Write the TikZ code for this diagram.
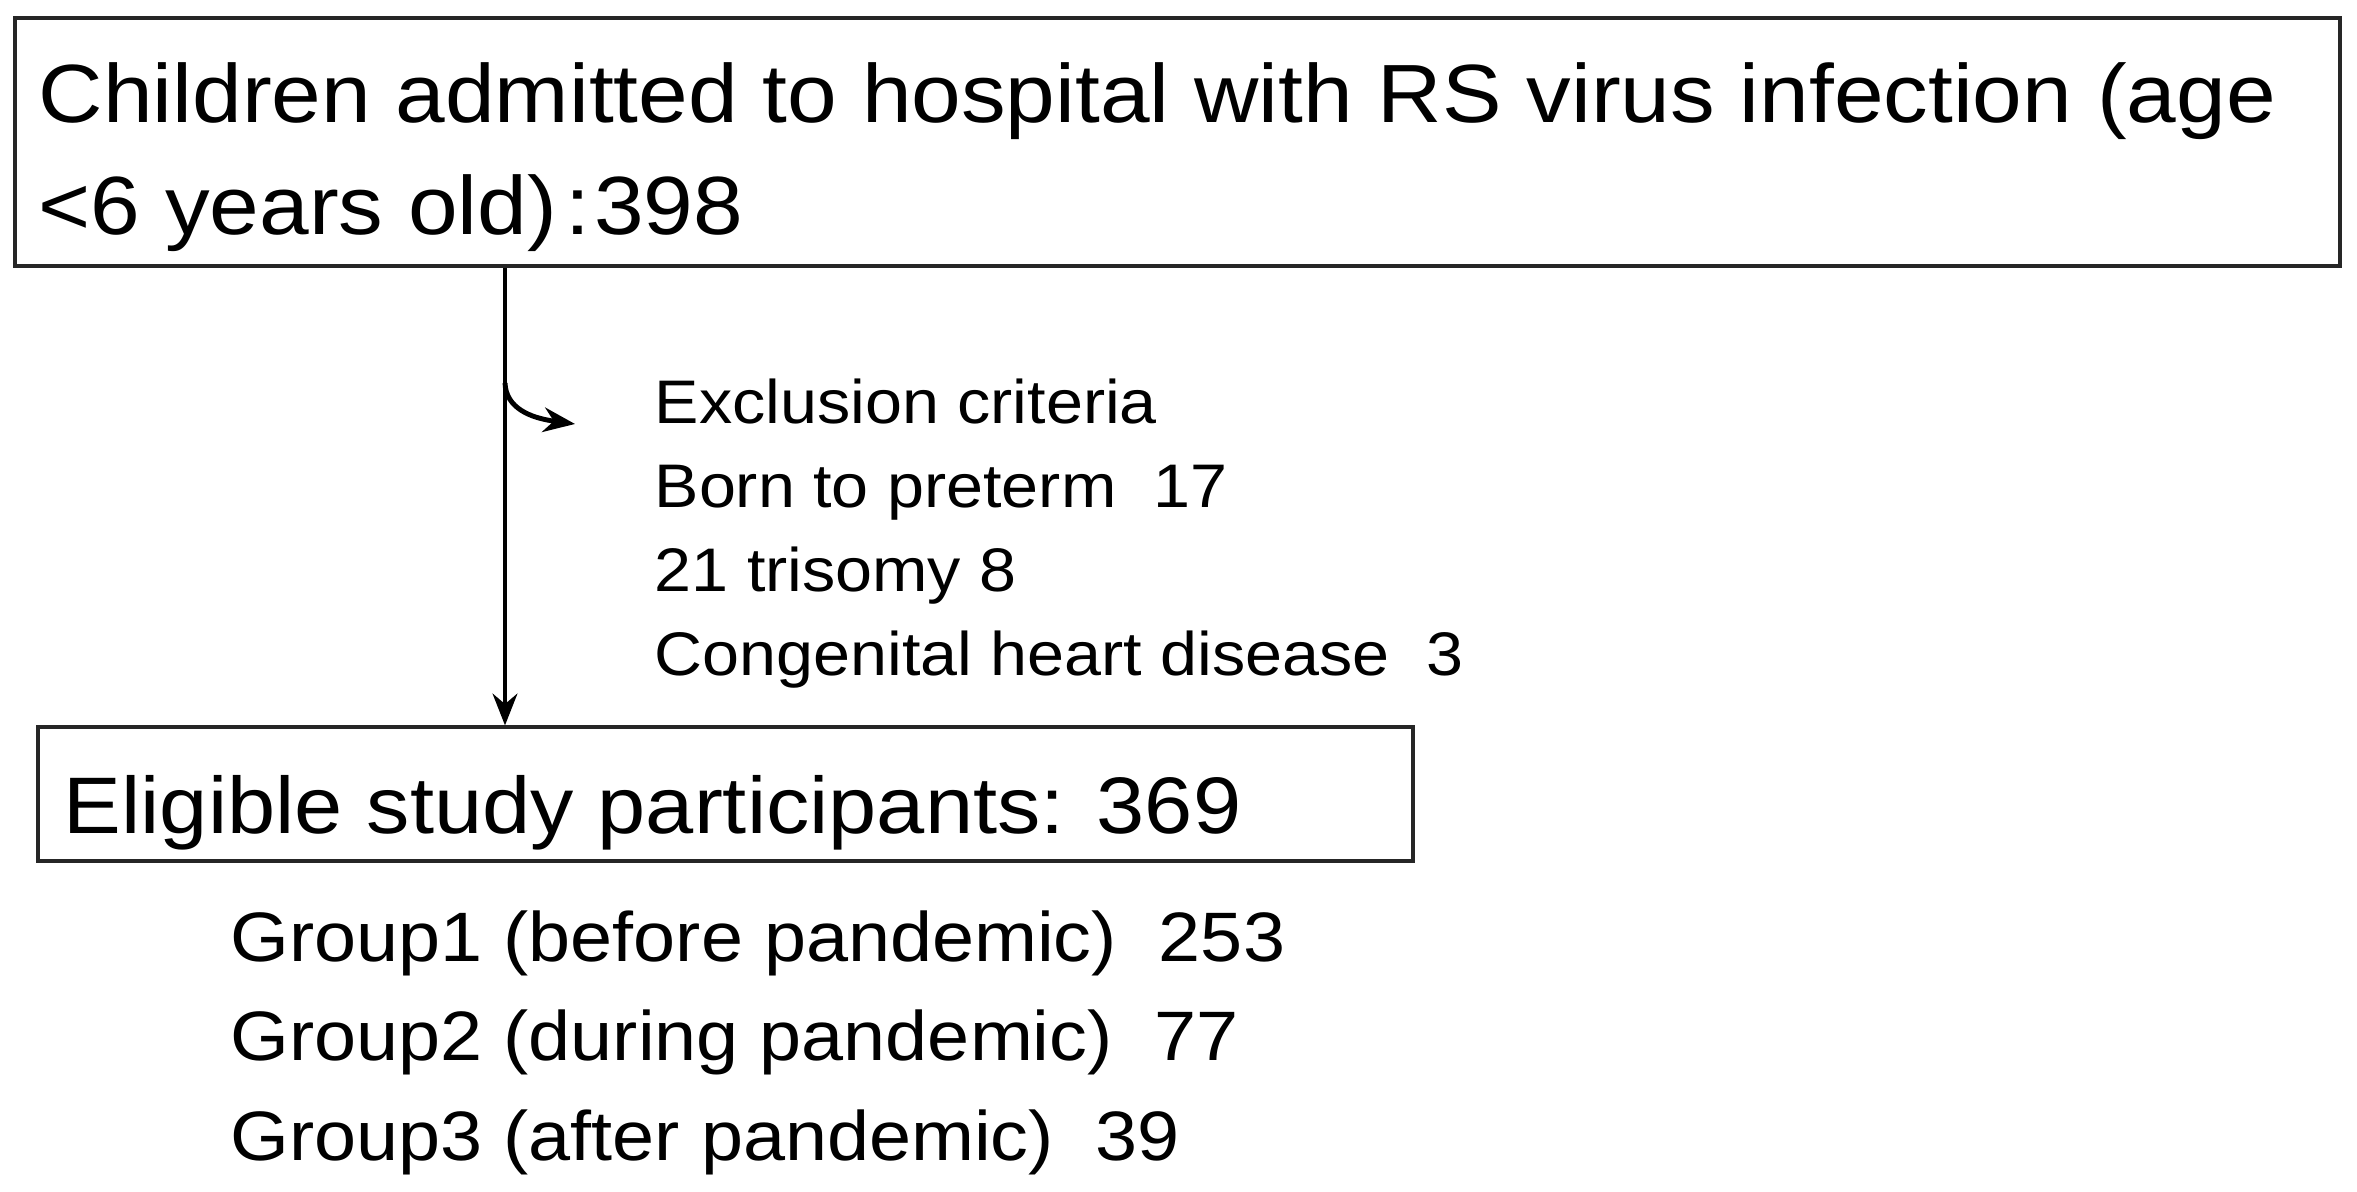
\documentclass[tikz,border=0pt]{standalone}
\usepackage{fontspec}
\setmainfont{Liberation Sans}[FakeStretch=1.08]
\usetikzlibrary{fit,arrows.meta}
\begin{document}
\begin{tikzpicture}[x=0.01cm,y=-0.01cm,
  box/.style={draw=black!85, line width=0.9pt, inner sep=0pt},
  txt/.style={anchor=base west, inner sep=0pt},
  arr/.style={line width=1.4pt, -{Stealth[length=9pt,width=7pt]}},
  fbig/.style={font=\fontsize{23.5pt}{28pt}\selectfont},
  fmid/.style={font=\fontsize{22.8pt}{26pt}\selectfont},
  fgrp/.style={font=\fontsize{19.9pt}{23pt}\selectfont},
  fsml/.style={font=\fontsize{17.5pt}{21pt}\selectfont}]
\useasboundingbox (0,0) rectangle (2357,1192);
% boxes
\node[box, fit={(15,18) (2340,266)}] (top) {};
\node[box, fit={(38,727) (1413,861)}] (elig) {};
% box texts
\node[txt, fbig] (t1) at (38,123) {Children admitted to hospital with RS virus infection (age};
\node[txt, fbig] (t2) at (38,235) {<6 years old)\hspace{0.1em}:\hspace{0.05em}398};
\node[txt, fmid] (e1) at (63,834) {Eligible study participants: 369};
% exclusion
\node[txt, fsml] (x1) at (654,424) {Exclusion criteria};
\node[txt, fsml] (x2) at (654,508) {Born to preterm\ \ 17};
\node[txt, fsml] (x3) at (654,592) {21 trisomy 8};
\node[txt, fsml] (x4) at (654,676) {Congenital heart disease\ \ 3};
% groups
\node[txt, fgrp] (g1) at (230,962) {Group1\hspace{0.3em}(before pandemic)\hspace{0.6em}253};
\node[txt, fgrp] (g2) at (230,1061) {Group2\hspace{0.3em}(during pandemic)\hspace{0.6em}77};
\node[txt, fgrp] (g3) at (230,1160) {Group3\hspace{0.3em}(after pandemic)\hspace{0.6em}39};
% connectors
\coordinate (ax) at (505,0);
\draw[arr] (top.south -| ax) -- (elig.north -| ax);
\coordinate (bs) at (505,383);
\coordinate (be) at (575,424);
\draw[arr] (bs) .. controls (506,408) and (530,418) .. (be);
\end{tikzpicture}
\end{document}
